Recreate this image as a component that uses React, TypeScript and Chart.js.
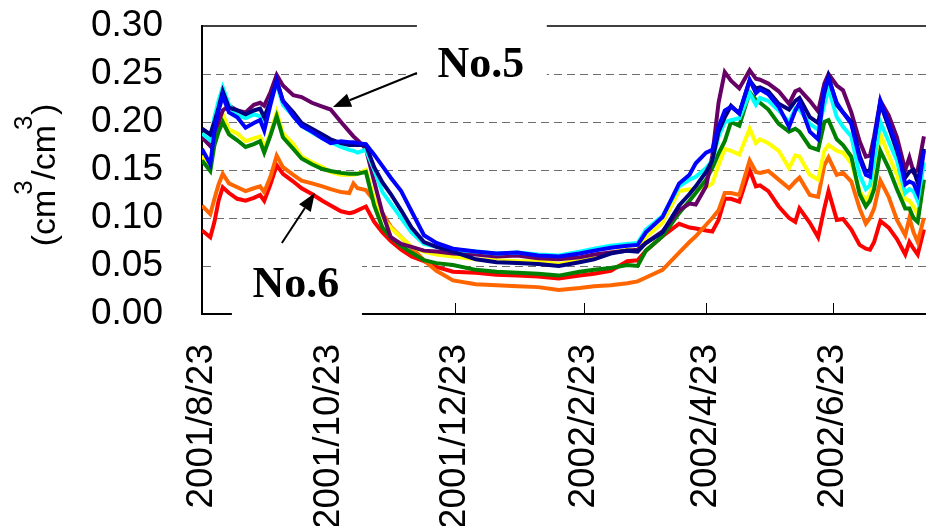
import { useEffect, useRef } from "react";
import { Chart, registerables } from "chart.js";

Chart.register(...registerables);

// Days elapsed since 2001/8/23
const days = [
  0, 4, 6, 8, 10, 13, 17, 21, 25, 28, 30, 33, 36, 39, 44, 48, 53, 58, 62,
  67, 71, 73, 75, 79, 83, 87, 91, 96, 101, 107, 113, 121,
  132, 142, 152, 162, 172, 182, 189,
  197, 205, 210, 214, 222, 230, 235, 238, 243, 246, 249,
  252, 255, 259, 264, 267, 269, 273, 278, 283, 286, 288, 293, 297, 300,
  302, 306, 309, 313, 317, 320, 322, 324, 327, 331, 335, 339, 341, 343, 345, 348,
];

const tickDays = [0, 61, 122, 184, 243, 304];
const tickLabels = ["2001/8/23", "2001/10/23", "2001/12/23", "2002/2/23", "2002/4/23", "2002/6/23"];

const purple = [
  0.184, 0.175, 0.19, 0.2, 0.212, 0.217, 0.212, 0.21, 0.218, 0.22, 0.217, 0.231, 0.249, 0.238, 0.228, 0.226, 0.22, 0.216, 0.213,
  0.2, 0.19, 0.185, 0.181, 0.172, 0.138, 0.105, 0.08, 0.073, 0.07, 0.066, 0.065, 0.063,
  0.062, 0.06, 0.061, 0.058, 0.057, 0.059, 0.062,
  0.064, 0.066, 0.067, 0.074, 0.086, 0.108, 0.115, 0.114, 0.133, 0.165, 0.22,
  0.252, 0.243, 0.235, 0.254, 0.245, 0.244, 0.24, 0.232, 0.219, 0.232, 0.234, 0.222, 0.211, 0.24,
  0.25, 0.238, 0.233, 0.21, 0.18, 0.164, 0.165, 0.185, 0.222, 0.207, 0.184, 0.15, 0.163, 0.148, 0.15, 0.185,
];
const navy = [
  0.193, 0.187, 0.2, 0.215, 0.232, 0.215, 0.212, 0.208, 0.212, 0.214, 0.205, 0.222, 0.243, 0.222, 0.21, 0.199, 0.193, 0.187, 0.182,
  0.178, 0.176, 0.176, 0.176, 0.176, 0.153, 0.137, 0.125, 0.108, 0.09, 0.075, 0.07, 0.065,
  0.057, 0.054, 0.053, 0.052, 0.05, 0.054, 0.057,
  0.063, 0.066, 0.065, 0.074, 0.085, 0.113, 0.125, 0.133, 0.148, 0.16, 0.19,
  0.205, 0.217, 0.209, 0.243, 0.235, 0.236, 0.232, 0.219, 0.213, 0.222, 0.225, 0.205, 0.199, 0.23,
  0.247, 0.218, 0.21, 0.2, 0.165, 0.148, 0.15, 0.18, 0.219, 0.195, 0.17, 0.142, 0.148, 0.15, 0.137, 0.172,
];
const blue = [
  0.172, 0.156, 0.19, 0.212, 0.227, 0.21, 0.205, 0.194, 0.199, 0.202, 0.191, 0.218, 0.243, 0.222, 0.206, 0.196, 0.19, 0.183, 0.178,
  0.18, 0.179, 0.179, 0.178, 0.177, 0.166, 0.154, 0.142, 0.128, 0.107, 0.082, 0.074, 0.068,
  0.065, 0.063, 0.064, 0.061, 0.06, 0.063, 0.066,
  0.069, 0.071, 0.072, 0.085, 0.101, 0.136, 0.145, 0.157, 0.168, 0.171, 0.195,
  0.212, 0.216, 0.209, 0.244, 0.23, 0.234, 0.229, 0.216, 0.195, 0.212, 0.22, 0.19, 0.182, 0.235,
  0.245, 0.22, 0.21, 0.198, 0.162, 0.145, 0.143, 0.18, 0.222, 0.198, 0.175, 0.135, 0.138, 0.136, 0.126, 0.17,
];
const cyan = [
  0.188, 0.181, 0.205, 0.222, 0.236, 0.218, 0.207, 0.204, 0.208, 0.206, 0.2, 0.222, 0.24, 0.218, 0.206, 0.196, 0.189, 0.183, 0.179,
  0.174, 0.171, 0.17, 0.168, 0.171, 0.15, 0.127, 0.115, 0.1, 0.085, 0.073, 0.07, 0.067,
  0.065, 0.063, 0.064, 0.062, 0.061, 0.065, 0.068,
  0.071, 0.073, 0.074, 0.088, 0.102, 0.133, 0.14, 0.143, 0.152, 0.16, 0.185,
  0.2, 0.202, 0.204, 0.23, 0.218, 0.225, 0.222, 0.212, 0.2, 0.214, 0.213, 0.198, 0.192, 0.218,
  0.235, 0.205, 0.195, 0.185, 0.145, 0.13, 0.134, 0.16, 0.2, 0.18, 0.16, 0.126, 0.13, 0.128, 0.118, 0.158,
];
const yellow = [
  0.165, 0.152, 0.183, 0.196, 0.208, 0.192, 0.188, 0.18, 0.183, 0.185, 0.174, 0.188, 0.21, 0.188, 0.177, 0.164, 0.158, 0.153, 0.148,
  0.145, 0.145, 0.145, 0.146, 0.15, 0.12, 0.1, 0.09, 0.08, 0.07, 0.065, 0.062, 0.06,
  0.057, 0.056, 0.055, 0.055, 0.052, 0.057, 0.06,
  0.064, 0.067, 0.067, 0.08, 0.095, 0.128, 0.13, 0.13, 0.132, 0.136, 0.155,
  0.172, 0.17, 0.166, 0.193, 0.178, 0.182, 0.178, 0.17, 0.152, 0.165, 0.164, 0.145, 0.14, 0.17,
  0.176, 0.17, 0.168, 0.157, 0.128, 0.118, 0.125, 0.14, 0.188, 0.165, 0.145, 0.12, 0.118, 0.112, 0.104, 0.14,
];
const green = [
  0.16, 0.149, 0.176, 0.19, 0.2, 0.187, 0.181, 0.174, 0.177, 0.18, 0.168, 0.186, 0.206, 0.184, 0.172, 0.162, 0.156, 0.151, 0.149,
  0.147, 0.146, 0.146, 0.146, 0.148, 0.113, 0.09, 0.08, 0.071, 0.064, 0.056, 0.053, 0.051,
  0.046, 0.044, 0.043, 0.042, 0.04, 0.044, 0.046,
  0.048, 0.051, 0.05, 0.066, 0.081, 0.105, 0.118, 0.126, 0.14, 0.152, 0.167,
  0.18, 0.2, 0.196, 0.231, 0.223, 0.22, 0.213, 0.198, 0.19, 0.193, 0.19, 0.174, 0.171, 0.2,
  0.202, 0.182, 0.176, 0.164, 0.125, 0.112, 0.118, 0.13, 0.17, 0.152, 0.13, 0.11, 0.11, 0.1, 0.096, 0.14,
];
const orange = [
  0.113, 0.104, 0.12, 0.135, 0.146, 0.136, 0.132, 0.128, 0.131, 0.133, 0.127, 0.143, 0.165, 0.153, 0.145, 0.139, 0.136, 0.133, 0.13,
  0.127, 0.126, 0.136, 0.131, 0.129, 0.118, 0.105, 0.091, 0.08, 0.069, 0.056, 0.045, 0.035,
  0.031, 0.03, 0.029, 0.028, 0.025, 0.027, 0.029,
  0.03, 0.032, 0.034, 0.038, 0.046, 0.064, 0.075, 0.081, 0.093, 0.1, 0.108,
  0.126, 0.126, 0.124, 0.16, 0.148, 0.147, 0.149, 0.14, 0.131, 0.138, 0.142, 0.124, 0.122, 0.155,
  0.163, 0.145, 0.147, 0.138, 0.11, 0.094, 0.1, 0.11, 0.139, 0.122, 0.098, 0.082, 0.1, 0.085, 0.075, 0.1,
];
const red = [
  0.087, 0.08, 0.096, 0.118, 0.132, 0.126, 0.12, 0.118, 0.121, 0.124, 0.118, 0.135, 0.155, 0.146, 0.138, 0.131, 0.125, 0.118, 0.113,
  0.107, 0.105, 0.106, 0.108, 0.112, 0.096, 0.085, 0.076, 0.067, 0.06, 0.055, 0.049, 0.044,
  0.043, 0.041, 0.04, 0.039, 0.037, 0.04, 0.042,
  0.045, 0.055, 0.056, 0.066, 0.081, 0.094, 0.09, 0.089, 0.087, 0.086, 0.098,
  0.12, 0.12, 0.117, 0.15, 0.133, 0.134, 0.128, 0.112, 0.1, 0.096, 0.11, 0.095, 0.08, 0.11,
  0.128, 0.098, 0.099, 0.088, 0.072, 0.068, 0.067, 0.075, 0.097, 0.09, 0.078, 0.062, 0.075, 0.068, 0.062, 0.088,
];

// drawn top-first
const seriesValues = [blue, navy, cyan, purple, green, yellow, orange, red];
const seriesColors = ["#0000FF", "#000080", "#00FFFF", "#660066", "#008000", "#FFFF00", "#FF6600", "#FF0000"];

// y-axis title pieces: [text, isSuperscript]
const titleParts: [string, boolean][] = [["(cm", false], ["3", true], ["/cm", false], ["3", true], [")", false]];

// annotations in data units (day, value)
const noteLabels = ["No.5", "No.6"];
const noteAt = [[134.4, 0.247], [45.3, 0.018]];
const arrowFrom = [[103.6, 0.251], [38.5, 0.074]];
const arrowTo = [[63.1, 0.2156], [54.4, 0.126]];
const noteBoxes = [
  [103.6, 0.317, 166.2, 0.2385],
  [6.7, 0.0667, 77.1, 0.003],
  [14.4, 0.004, 77.1, -0.006],
];

const FONT = "'Liberation Sans', Arial, sans-serif";

const annotationPlugin = {
  id: "notes",
  afterDraw(chart: any) {
    const { ctx, chartArea: a, scales } = chart;
    const xs = scales.x;
    const ys = scales.y;
    const px = (d: number) => xs.getPixelForValue(d);
    const py = (v: number) => ys.getPixelForValue(v);
    ctx.save();
    // top frame line
    ctx.strokeStyle = "#000";
    ctx.lineWidth = 1.5;
    ctx.beginPath();
    ctx.moveTo(a.left, a.top);
    ctx.lineTo(a.right, a.top);
    ctx.stroke();
    // inward x ticks
    ctx.lineWidth = 1;
    tickDays.slice(1).forEach((d) => {
      const xx = Math.round(px(d)) + 0.5;
      ctx.beginPath();
      ctx.moveTo(xx, a.bottom);
      ctx.lineTo(xx, a.bottom - 11);
      ctx.stroke();
    });
    // label boxes
    ctx.fillStyle = "#fff";
    noteBoxes.forEach(([d0, v0, d1, v1]) => {
      ctx.fillRect(px(d0), py(v0), px(d1) - px(d0), py(v1) - py(v0));
    });
    ctx.fillStyle = "#000";
    ctx.font = "bold 44px 'Liberation Serif', 'Times New Roman', serif";
    ctx.textAlign = "center";
    ctx.textBaseline = "alphabetic";
    noteLabels.forEach((t, i) => ctx.fillText(t, px(noteAt[i][0]), py(noteAt[i][1])));
    arrowFrom.forEach((f, i) => {
      const x0 = px(f[0]), y0 = py(f[1]);
      const x1 = px(arrowTo[i][0]), y1 = py(arrowTo[i][1]);
      const ang = Math.atan2(y1 - y0, x1 - x0);
      const hl = 18, hw = 7;
      const bx = x1 - hl * Math.cos(ang), by = y1 - hl * Math.sin(ang);
      ctx.lineWidth = 2;
      ctx.beginPath();
      ctx.moveTo(x0, y0);
      ctx.lineTo(bx, by);
      ctx.stroke();
      ctx.beginPath();
      ctx.moveTo(x1, y1);
      ctx.lineTo(bx + hw * Math.sin(ang), by - hw * Math.cos(ang));
      ctx.lineTo(bx - hw * Math.sin(ang), by + hw * Math.cos(ang));
      ctx.closePath();
      ctx.fill();
    });
    // y-axis title with raised 3s
    const mainFont = `34px ${FONT}`;
    const supFont = `26px ${FONT}`;
    const widths = titleParts.map(([t, sup]) => {
      ctx.font = sup ? supFont : mainFont;
      return sup ? 10 : ctx.measureText(t).width;
    });
    const total = widths.reduce((s, w) => s + w, 0);
    ctx.translate(55, (a.top + a.bottom) / 2 + 5);
    ctx.rotate(-Math.PI / 2);
    ctx.textAlign = "left";
    let u = -total / 2;
    titleParts.forEach(([t, sup], i) => {
      ctx.font = sup ? supFont : mainFont;
      if (sup) ctx.fillText(t, u - 5, -23);
      else ctx.fillText(t, u, 0);
      u += widths[i];
    });
    ctx.restore();
  },
};

export default function App() {
  const ref = useRef<HTMLCanvasElement | null>(null);
  useEffect(() => {
    if (!ref.current) return;
    const chart = new Chart(ref.current, {
      type: "line",
      data: {
        datasets: seriesValues.map((vals, i) => ({
          data: days.map((d, j) => ({ x: d, y: vals[j] })),
          borderColor: seriesColors[i],
          backgroundColor: seriesColors[i],
          borderWidth: 4,
          pointRadius: 0,
          tension: 0,
          fill: false,
        })),
      },
      options: {
        animation: false,
        responsive: false,
        devicePixelRatio: 1,
        layout: { padding: { top: 26, left: 0, right: 0, bottom: 0 } },
        plugins: { legend: { display: false }, tooltip: { enabled: false } },
        scales: {
          x: {
            type: "linear",
            min: 0,
            max: 349,
            afterBuildTicks: (s: any) => {
              s.ticks = tickDays.map((v) => ({ value: v }));
            },
            afterFit: (s: any) => {
              s.height = 212;
            },
            grid: { display: false },
            border: { display: true, color: "#000", width: 2 },
            ticks: {
              autoSkip: false,
              minRotation: 90,
              maxRotation: 90,
              padding: 22,
              color: "#000",
              font: { family: FONT, size: 37 },
              callback: (v: any) => {
                const k = tickDays.indexOf(Number(v));
                return k >= 0 ? tickLabels[k] : "";
              },
            },
          },
          y: {
            min: 0,
            max: 0.3,
            afterFit: (s: any) => {
              s.width = 202;
            },
            grid: {
              drawTicks: true,
              tickLength: 39,
              tickColor: "rgba(0,0,0,0)",
              color: (c: any) => {
                const v = c.tick ? c.tick.value : 0;
                return v < 1e-9 || Math.abs(v - 0.3) < 1e-9 ? "rgba(0,0,0,0)" : "#6e6e6e";
              },
              lineWidth: 1,
            },
            border: { display: true, color: "#000", width: 2, dash: [8, 5] },
            ticks: {
              autoSkip: false,
              stepSize: 0.05,
              padding: 0,
              color: "#000",
              font: { family: FONT, size: 37 },
              callback: (v: any) => Number(v).toFixed(2),
            },
            title: { display: false },
          },
        },
      },
      plugins: [annotationPlugin],
    });
    return () => chart.destroy();
  }, []);
  return (
    <div style={{ position: "absolute", left: 0, top: 0, width: 926, height: 526, background: "#fff" }}>
      <canvas ref={ref} width={926} height={526} />
    </div>
  );
}
